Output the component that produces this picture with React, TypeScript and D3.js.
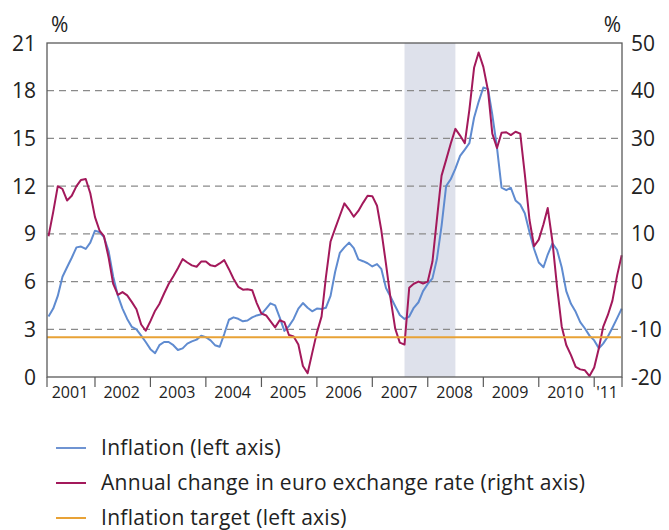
import * as d3 from 'd3';

const W = 669;
const H = 530;
const PLOT = { left: 47, right: 622, top: 43, bottom: 377 };

// monthly observations, first one is March 2001
const START_MONTH = new Date(2001, 2, 1);

const inflation = [
  3.8, 4.3, 5.1, 6.3, 6.9, 7.5, 8.15, 8.2, 8.05, 8.45,
  9.2, 9.1, 8.8, 7.9, 6.3, 5.1, 4.3, 3.65, 3.15, 3.0,
  2.6, 2.2, 1.75, 1.5, 2.0, 2.2, 2.2, 2.0, 1.7, 1.8,
  2.1, 2.24, 2.35, 2.6, 2.5, 2.3, 2.0, 1.9, 2.7, 3.6,
  3.75, 3.66, 3.5, 3.55, 3.75, 3.87, 3.95, 4.3, 4.63, 4.5,
  3.75, 2.9, 3.2, 3.65, 4.3, 4.65, 4.35, 4.13, 4.3, 4.28,
  4.35, 5.1, 6.6, 7.8, 8.15, 8.45, 8.1, 7.4, 7.28, 7.15,
  6.95, 7.1, 6.8, 5.6, 5.05, 4.45, 3.9, 3.65, 3.8, 4.35,
  4.7, 5.4, 5.85, 6.2, 7.4, 9.5, 12.0, 12.45, 13.1, 13.9,
  14.3, 14.7, 16.3, 17.3, 18.2, 18.1, 16.5, 14.4, 11.9, 11.75,
  11.9, 11.1, 10.85, 10.3, 9.1, 8.05, 7.2, 6.9, 7.7, 8.4,
  8.0, 6.9, 5.4, 4.6, 4.1, 3.45, 3.05, 2.6, 2.3, 1.8,
  2.1, 2.55, 3.1, 3.7, 4.3,
];

const euroChange = [
  9.5, 14.6, 20.0, 19.4, 17.0, 18.0, 20.0, 21.3, 21.5, 18.5,
  13.5, 10.6, 9.5, 5.0, -0.5, -2.8, -2.2, -2.9, -4.3, -5.8,
  -9.0, -10.3, -8.3, -6.1, -4.7, -2.5, -0.5, 1.1, 2.8, 4.7,
  4.0, 3.4, 3.1, 4.2, 4.2, 3.4, 3.2, 3.8, 4.5, 2.6,
  0.6, -1.1, -1.7, -1.6, -1.8, -4.5, -6.7, -7.1, -8.3, -9.6,
  -8.1, -8.5, -11.2, -11.5, -13.2, -17.7, -19.2, -15.0, -10.7, -7.3,
  0.8, 8.4, 11.1, 13.8, 16.4, 15.1, 13.6, 14.8, 16.5, 18.0,
  17.9, 15.9, 10.8, 3.7, -3.5, -9.9, -12.8, -13.2, -1.3, -0.45,
  0.0, -0.4, 0.0, 4.2, 13.0, 22.2, 25.5, 29.0, 32.0, 30.6,
  29.0, 36.0, 44.8, 48.0, 45.0, 40.0, 31.0, 28.0, 31.2, 31.3,
  30.7, 31.4, 31.0, 22.5, 12.9, 7.4, 8.8, 12.0, 15.4, 8.4,
  -1.0, -9.4, -13.3, -15.4, -17.9, -18.4, -18.6, -19.8, -18.0, -13.9,
  -9.5, -7.0, -4.0, 1.3, 5.5,
];

const INFLATION_TARGET = 2.5;
const SHADE = [new Date(2007, 7, 1), new Date(2008, 6, 1)];

const leftTicks = [0, 3, 6, 9, 12, 15, 18, 21];
const rightTicks = [-20, -10, 0, 10, 20, 30, 40, 50];
const yearLabels = ['2001', '2002', '2003', '2004', '2005', '2006', '2007', '2008', '2009', '2010', "'11"];

const legendItems = [
  { label: 'Inflation (left axis)', color: '#6f94d2' },
  { label: 'Annual change in euro exchange rate (right axis)', color: '#a3195b' },
  { label: 'Inflation target (left axis)', color: '#e8a236' },
];

const FONT = '"Open Sans", "DejaVu Sans", sans-serif';

export default function App() {
  const dates = inflation.map((_, i) => d3.timeMonth.offset(START_MONTH, i));
  const x = d3
    .scaleTime()
    .domain([new Date(2001, 1, 19), new Date(2011, 6, 3)])
    .range([PLOT.left, PLOT.right]);
  const yL = d3.scaleLinear().domain([0, 21]).range([PLOT.bottom, PLOT.top]);
  const yR = d3.scaleLinear().domain([-20, 50]).range([PLOT.bottom, PLOT.top]);

  const lineL = d3
    .line<number>()
    .x((_, i) => x(dates[i]))
    .y((d) => yL(d));
  const lineR = d3
    .line<number>()
    .x((_, i) => x(dates[i]))
    .y((d) => yR(d));

  // year boundaries: plot edges plus every January
  const jans = d3.timeYear.range(new Date(2002, 0, 1), new Date(2011, 0, 2));
  const bounds = [PLOT.left, ...jans.map((d) => x(d)), PLOT.right];

  return (
    <svg
      width={W}
      height={H}
      style={{ position: 'absolute', left: 0, top: 0, background: '#fff' }}
      fontFamily={FONT}
    >
      {/* shaded period */}
      <rect
        x={x(SHADE[0])}
        y={PLOT.top}
        width={x(SHADE[1]) - x(SHADE[0])}
        height={PLOT.bottom - PLOT.top}
        fill="#dee1eb"
      />

      {/* grid */}
      {leftTicks
        .filter((t) => t > 0 && t < 21)
        .map((t) => (
          <line
            key={t}
            x1={PLOT.left}
            x2={PLOT.right}
            y1={yL(t)}
            y2={yL(t)}
            stroke="#8a8a8a"
            strokeWidth={1.2}
            strokeDasharray="7,5"
          />
        ))}

      {/* series */}
      <path d={lineL(inflation) || ''} fill="none" stroke="#5f8bd0" strokeWidth={2} strokeLinejoin="round" />
      <path d={lineR(euroChange) || ''} fill="none" stroke="#a3195b" strokeWidth={2} strokeLinejoin="round" />
      <line
        x1={PLOT.left}
        x2={PLOT.right - 1}
        y1={yL(INFLATION_TARGET)}
        y2={yL(INFLATION_TARGET)}
        stroke="#e8a236"
        strokeWidth={2}
      />

      {/* frame */}
      <rect
        x={PLOT.left}
        y={PLOT.top}
        width={PLOT.right - PLOT.left}
        height={PLOT.bottom - PLOT.top}
        fill="none"
        stroke="#5a5a5a"
        strokeWidth={1.3}
      />

      {/* x ticks and labels */}
      {bounds.map((b, i) => (
        <line key={'t' + i} x1={b} x2={b} y1={PLOT.bottom} y2={PLOT.bottom + 10} stroke="#5a5a5a" strokeWidth={1.2} />
      ))}
      {yearLabels.map((lab, i) => (
        <text
          key={lab}
          x={(bounds[i] + bounds[i + 1]) / 2 - 1}
          y={PLOT.bottom + 21}
          textAnchor="middle"
          fontSize={16}
          fill="#222"
        >
          {lab}
        </text>
      ))}

      {/* y labels */}
      {leftTicks.map((t) => (
        <text key={'l' + t} x={36} y={yL(t)} dy="0.36em" textAnchor="end" fontSize={21} fill="#222">
          {t}
        </text>
      ))}
      {rightTicks.map((t) => (
        <text key={'r' + t} x={631} y={yR(t)} dy="0.36em" textAnchor="start" fontSize={21} fill="#222">
          {t}
        </text>
      ))}
      <text x={51} y={32} fontSize={21} fill="#222">%</text>
      <text x={621} y={32} fontSize={21} fill="#222" textAnchor="end">%</text>

      {/* legend */}
      {legendItems.map((item, i) => {
        const cy = 448 + i * 35;
        return (
          <g key={item.label}>
            <line x1={56} x2={86} y1={cy} y2={cy} stroke={item.color} strokeWidth={2} />
            <text x={101} y={cy} dy="0.35em" fontSize={21} letterSpacing={0.28} fill="#222">
              {item.label}
            </text>
          </g>
        );
      })}
    </svg>
  );
}
